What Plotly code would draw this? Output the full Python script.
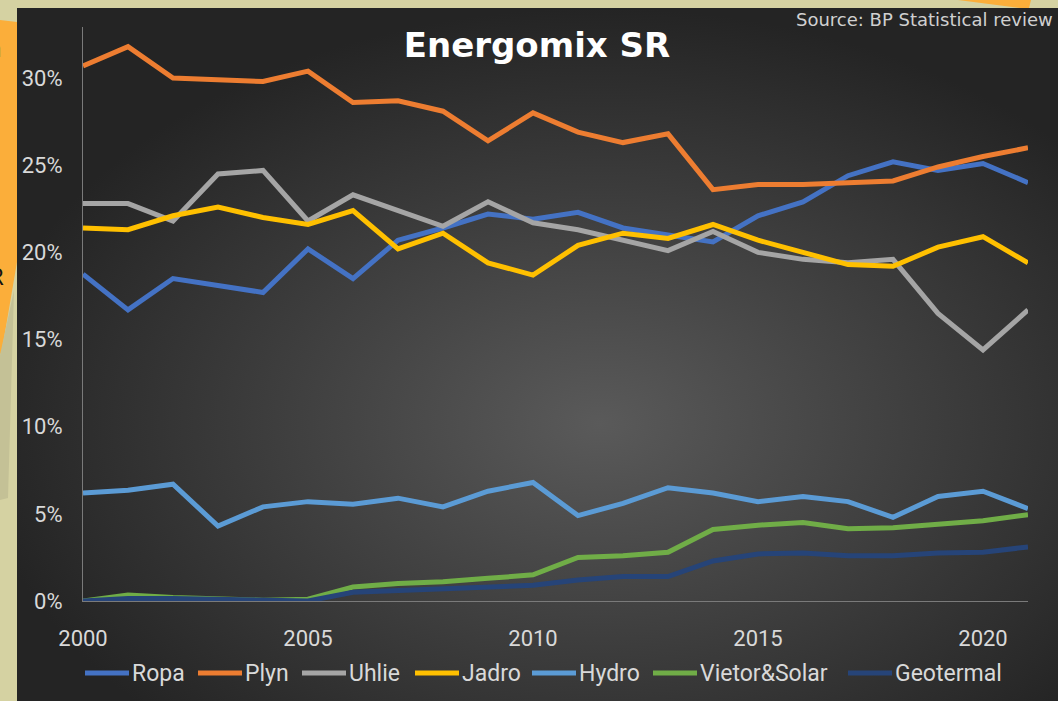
import base64
import plotly.graph_objects as go

years = list(range(2000, 2022))
ropa = [18.75, 16.7, 18.5, 18.1, 17.7, 20.2, 18.5, 20.7, 21.4, 22.2, 21.9,
        22.3, 21.4, 21.0, 20.6, 22.1, 22.9, 24.4, 25.2, 24.7, 25.1, 24.0]
plyn = [30.7, 31.8, 30.0, 29.9, 29.8, 30.4, 28.6, 28.7, 28.1, 26.4, 28.0,
        26.9, 26.3, 26.8, 23.6, 23.9, 23.9, 24.0, 24.1, 24.9, 25.5, 26.0]
uhlie = [22.8, 22.8, 21.8, 24.5, 24.7, 21.8, 23.3, 22.4, 21.5, 22.9, 21.7,
         21.3, 20.7, 20.1, 21.2, 20.0, 19.6, 19.4, 19.6, 16.5, 14.4, 16.7]
jadro = [21.4, 21.3, 22.1, 22.6, 22.0, 21.6, 22.4, 20.2, 21.1, 19.4, 18.7,
         20.4, 21.1, 20.8, 21.6, 20.7, 20.0, 19.3, 19.2, 20.3, 20.9, 19.4]
hydro = [6.2, 6.35, 6.7, 4.3, 5.4, 5.7, 5.55, 5.9, 5.4, 6.3, 6.8,
         4.9, 5.6, 6.5, 6.2, 5.7, 6.0, 5.7, 4.8, 6.0, 6.3, 5.3]
vietor_solar = [0.0, 0.35, 0.2, 0.1, 0.05, 0.1, 0.8, 1.0, 1.1, 1.3, 1.5,
                2.5, 2.6, 2.8, 4.1, 4.35, 4.5, 4.15, 4.2, 4.4, 4.6, 4.95]
geotermal = [0.0, 0.15, 0.15, 0.1, 0.0, 0.0, 0.5, 0.6, 0.7, 0.8, 0.9,
             1.2, 1.4, 1.4, 2.3, 2.7, 2.75, 2.6, 2.6, 2.75, 2.8, 3.1]

series_names = ["Ropa", "Plyn", "Uhlie", "Jadro", "Hydro", "Vietor&Solar", "Geotermal"]
series_values = [ropa, plyn, uhlie, jadro, hydro, vietor_solar, geotermal]
series_colors = ["#4472C4", "#ED7D31", "#A5A5A5", "#FFC000", "#5B9BD5", "#70AD47", "#264478"]
x_ticks = [2000, 2005, 2010, 2015, 2020]
y_ticks = [0, 5, 10, 15, 20, 25, 30]
y_tick_labels = [f"{v}%" for v in y_ticks]

W, H = 1058, 701
L, R, T, B = 83, 1028, 27, 601


def X(px):
    return (px - L) / (R - L)


def Y(py):
    return (B - py) / (B - T)


fig = go.Figure()
for name, vals, col in zip(series_names, series_values, series_colors):
    fig.add_trace(go.Scatter(
        x=years, y=vals, name=name, mode="lines",
        line=dict(color=col, width=5), cliponaxis=False, showlegend=False,
    ))

svg = ('<svg xmlns="http://www.w3.org/2000/svg" width="1041" height="693" '
       'viewBox="0 0 1041 693" preserveAspectRatio="none"><defs>'
       '<radialGradient id="g" cx="0.56" cy="0.6" r="0.6">'
       '<stop offset="0" stop-color="#5a5a5a"/><stop offset="1" stop-color="#242424"/>'
       '</radialGradient></defs><rect width="1041" height="693" fill="url(#g)"/></svg>')
src = "data:image/svg+xml;base64," + base64.b64encode(svg.encode()).decode()


def poly(points, color):
    d = "M " + " L ".join(f"{X(a)},{Y(b)}" for a, b in points) + " Z"
    return dict(type="path", xref="paper", yref="paper", path=d,
                fillcolor=color, line=dict(width=0), layer="below")


shapes = [
    poly([(0, 20), (17, 22), (17, 262), (2, 350), (0, 355)], "#FBAE3A"),
    poly([(0, 355), (14, 290), (8, 498), (0, 500)], "#C4C196"),
    poly([(958, 0), (1031, 0), (1029, 8), (1020, 8)], "#FBAE3A"),
]

annotations = [
    dict(text="Source: BP Statistical review", xref="paper", yref="paper",
         x=X(1055), y=Y(20), xanchor="right", yanchor="middle", showarrow=False,
         font=dict(family="DejaVu Sans", size=18, color="#D0D0D0")),
    dict(text="n", xref="paper", yref="paper", x=X(4), y=Y(47), xanchor="right",
         yanchor="middle", showarrow=False,
         font=dict(family="Open Sans", size=24, color="#111111")),
    dict(text="R", xref="paper", yref="paper", x=X(6), y=Y(275), xanchor="right",
         yanchor="middle", showarrow=False,
         font=dict(family="Open Sans", size=24, color="#111111")),
]

# custom legend (line swatch + label), positioned like the reference
legend_starts = [85, 198, 302, 415, 532, 653, 848]
legend_y = 673
for name, col, x0 in zip(series_names, series_colors, legend_starts):
    shapes.append(dict(type="line", xref="paper", yref="paper",
                       x0=X(x0), x1=X(x0 + 44), y0=Y(legend_y), y1=Y(legend_y),
                       line=dict(color=col, width=5)))
    annotations.append(dict(text=name, xref="paper", yref="paper",
                            x=X(x0 + 45), y=Y(legend_y), xanchor="left",
                            yanchor="middle", showarrow=False,
                            font=dict(family="Roboto", size=23, color="#D9D9D9")))

fig.update_layout(
    width=W, height=H,
    margin=dict(l=L, r=W - R, t=T, b=H - B, pad=0),
    paper_bgcolor="#D5D2A2",
    plot_bgcolor="rgba(0,0,0,0)",
    images=[dict(source=src, xref="paper", yref="paper", x=X(17), y=Y(8),
                 sizex=X(1058) - X(17), sizey=Y(8) - Y(701),
                 xanchor="left", yanchor="top", sizing="stretch", layer="below")],
    shapes=shapes,
    annotations=annotations,
    title=dict(text="<b>Energomix SR</b>", x=537 / W, xanchor="center",
               y=1 - 45 / H, yanchor="middle",
               font=dict(family="DejaVu Sans", size=34, color="#FFFFFF")),
    xaxis=dict(range=[2000, 2021], tickvals=x_ticks, showgrid=False, zeroline=False,
               showline=True, linecolor="#7a7a7a", linewidth=1, ticks="",
               ticklabelstandoff=18,
               tickfont=dict(family="Roboto", size=22, color="#D9D9D9")),
    yaxis=dict(range=[0, 32.93], tickvals=y_ticks, ticktext=y_tick_labels,
               showgrid=False, zeroline=False, showline=True, linecolor="#7a7a7a",
               linewidth=1, ticks="", ticklabelstandoff=15,
               tickfont=dict(family="Roboto", size=22, color="#D9D9D9")),
    showlegend=False,
)

fig.write_html("out.html", config={"displayModeBar": False},
               post_script="document.body.style.margin='0';")
